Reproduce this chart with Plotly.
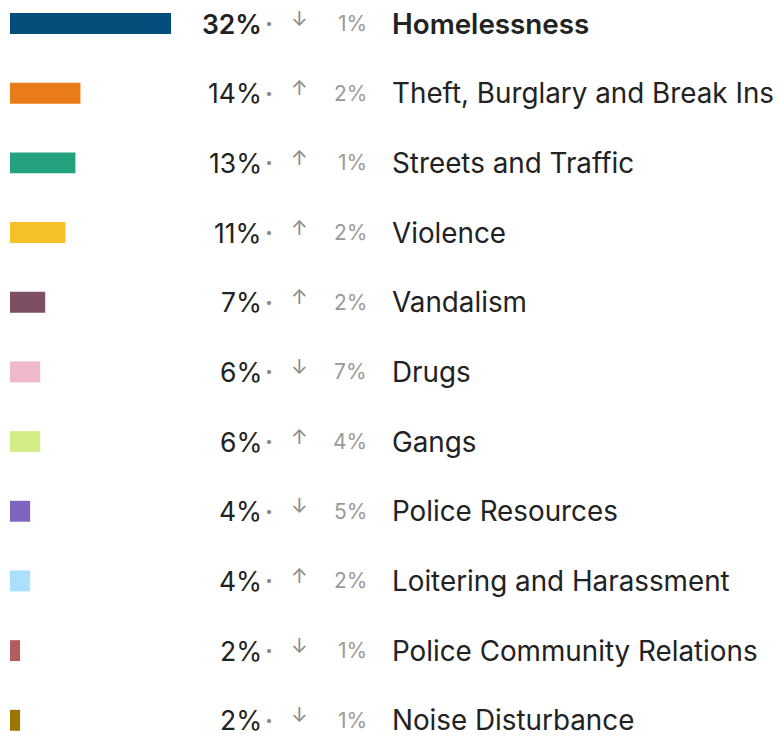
import plotly.graph_objects as go

# Share of reports by issue, with change vs previous period (percentage points)
categories = [
    "Homelessness",
    "Theft, Burglary and Break Ins",
    "Streets and Traffic",
    "Violence",
    "Vandalism",
    "Drugs",
    "Gangs",
    "Police Resources",
    "Loitering and Harassment",
    "Police Community Relations",
    "Noise Disturbance",
]
shares = [32, 14, 13, 11, 7, 6, 6, 4, 4, 2, 2]
changes = [-1, 2, 1, 2, 2, -7, 4, -5, 2, -1, -1]
bar_colors = [
    "#034e7b", "#e97c19", "#24a27f", "#f6c028", "#7e4f63", "#f0b9cb",
    "#d3ee86", "#7f64bf", "#aadffe", "#b25c5c", "#9c7400",
]

W, H = 780, 736
FONT = "Inter"
DARK = "#222222"
GREY = "#9a9a9a"

fig = go.Figure(
    go.Bar(
        x=shares,
        y=categories,
        orientation="h",
        marker=dict(color=bar_colors, line=dict(width=0)),
        width=0.30,
        hoverinfo="skip",
    )
)

# pixel helpers for the text columns
def px(x):
    return x / W

annotations = []
for i, (cat, s, c) in enumerate(zip(categories, shares, changes)):
    weight = 600 if i == 0 else 400
    common = dict(xref="paper", yref="y", y=cat, yanchor="middle",
                  showarrow=False, borderpad=0)
    annotations += [
        dict(common, x=px(263), xanchor="right", text=f"{s}%",
             font=dict(family=FONT, size=26.5, color=DARK, weight=weight)),
        dict(common, x=px(269), xanchor="center", text="·",
             font=dict(family=FONT, size=24, color="#888888", weight=700)),
        dict(common, x=px(299.5), xanchor="center", yshift=5,
             text="↑" if c > 0 else "↓",
             font=dict(family=FONT, size=20, color="#8a8a8a")),
        dict(common, x=px(368), xanchor="right", text=f"{abs(c)}%",
             font=dict(family=FONT, size=21, color=GREY)),
        dict(common, x=px(391), xanchor="left", text=cat,
             font=dict(family=FONT, size=27.8, color=DARK, weight=weight)),
    ]

# linear value scale: 0 at 10px, 5.03px per percentage point
scale = 161 / 32
x0 = -10 / scale
x1 = (W - 10) / scale
row = 69.68
fig.update_layout(
    width=W,
    height=H,
    margin=dict(l=0, r=0, t=0, b=0),
    paper_bgcolor="white",
    plot_bgcolor="white",
    showlegend=False,
    hovermode=False,
    annotations=annotations,
    xaxis=dict(range=[x0, x1], visible=False, fixedrange=True),
    yaxis=dict(
        type="category",
        categoryorder="array",
        categoryarray=categories,
        range=[10 + 15.7 / row, -23.5 / row],
        visible=False,
        fixedrange=True,
    ),
)

fig.write_html("out.html", config={"displayModeBar": False})
